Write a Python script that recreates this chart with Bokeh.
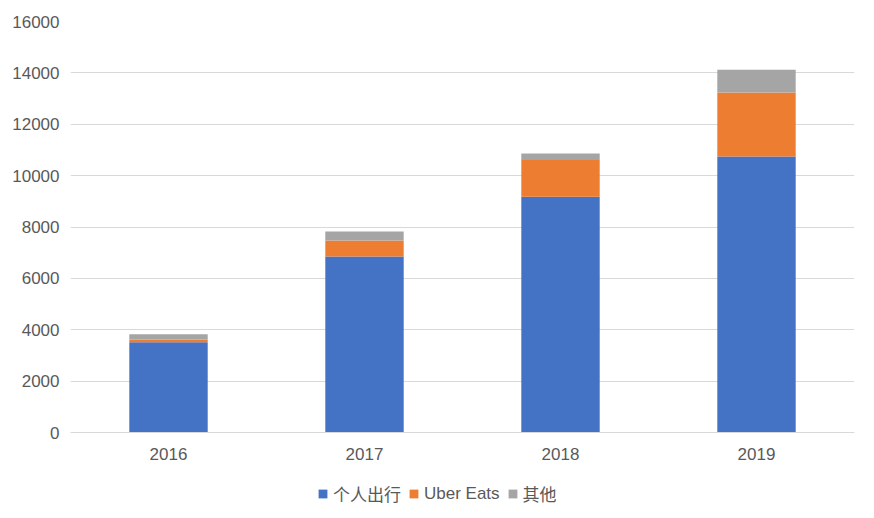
from bokeh.plotting import figure
from bokeh.models import ColumnDataSource, FactorRange, Range1d, Legend, LegendItem, NumeralTickFormatter
from bokeh.embed import file_html
from bokeh.resources import INLINE

years = ["2016", "2017", "2018", "2019"]
mobility = [3510, 6850, 9180, 10740]
uber_eats = [110, 620, 1430, 2500]
other = [200, 350, 250, 880]
series_names = ["个人出行", "Uber Eats", "其他"]
colors = ["#4472C4", "#ED7D31", "#A5A5A5"]
y_ticks = [0, 2000, 4000, 6000, 8000, 10000, 12000, 14000, 16000]

source = ColumnDataSource(data=dict(year=years, s0=mobility, s1=uber_eats, s2=other))

FONT = "Liberation Sans"
LEG_FONT = "'Liberation Sans', 'Noto Sans CJK SC'"
TXT = "#595959"
FS = "17px"

# frame spans down to the canvas bottom so that the legend sits inside it
Y_TOP = 16000
Y_BOTTOM = -Y_TOP * 78.0 / 411.0

p = figure(x_range=FactorRange(*years, range_padding=0), y_range=Range1d(Y_BOTTOM, Y_TOP),
           width=866, height=510, output_backend="svg", toolbar_location=None,
           min_border_left=70, min_border_right=12, min_border_top=21, min_border_bottom=0)

renderers = p.vbar_stack(["s0", "s1", "s2"], x="year", width=0.4, color=colors,
                         source=source, line_color=None)

p.outline_line_color = None
p.background_fill_color = "white"
p.border_fill_color = "white"

p.xgrid.grid_line_color = None
p.ygrid.grid_line_color = "#D9D9D9"
p.ygrid.grid_line_width = 1

p.yaxis.ticker = y_ticks
p.yaxis.formatter = NumeralTickFormatter(format="0")
p.yaxis.axis_line_color = None
p.yaxis.major_tick_line_color = None
p.yaxis.minor_tick_line_color = None
p.yaxis.major_label_standoff = 5
p.yaxis.major_label_text_font = FONT
p.yaxis.major_label_text_font_size = FS
p.yaxis.major_label_text_color = TXT

p.xaxis.fixed_location = 0
p.xaxis.axis_line_color = "#D9D9D9"
p.xaxis.major_tick_line_color = None
p.xaxis.minor_tick_line_color = None
p.xaxis.major_label_standoff = 9
p.xaxis.major_label_text_font = FONT
p.xaxis.major_label_text_font_size = FS
p.xaxis.major_label_text_color = TXT

items = [LegendItem(label=n, renderers=[r]) for n, r in zip(series_names, renderers)]
legend = Legend(items=items, orientation="horizontal", location=(247, 4),
                glyph_width=11, glyph_height=11, label_standoff=5, spacing=7,
                padding=4, margin=0, border_line_color=None, background_fill_alpha=0,
                label_text_font=LEG_FONT, label_text_font_size=FS,
                label_text_color=TXT)
p.add_layout(legend, "center")

open("out.html", "w").write(file_html(p, INLINE))
